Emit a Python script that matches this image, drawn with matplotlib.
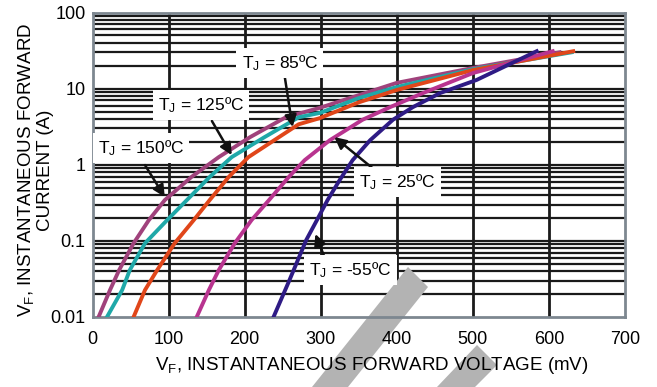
import matplotlib
matplotlib.use('Agg')
from matplotlib import pyplot as plt
from matplotlib.patches import Polygon
from matplotlib.ticker import LogLocator, NullFormatter

plt.rcParams['font.family'] = ['Liberation Sans', 'DejaVu Sans']
plt.rcParams['mathtext.fontset'] = 'custom'
plt.rcParams['mathtext.rm'] = 'Liberation Sans'
plt.rcParams['mathtext.it'] = 'Liberation Sans'

# curve data: forward voltage (mV) vs forward current (A)
v_150 = [8, 23, 35, 54, 74, 95, 130, 166, 207, 254, 299, 350, 400, 499, 614]
i_150 = [0.01, 0.0226, 0.0413, 0.093, 0.187, 0.343, 0.69, 1.26, 2.3, 4.2, 5.6, 8.2, 11.9, 18.6, 30]

v_125 = [19, 39, 49, 69, 98, 124, 154, 183, 226, 271, 299, 350, 400, 500, 630]
i_125 = [0.01, 0.0226, 0.0413, 0.093, 0.187, 0.343, 0.69, 1.26, 2.3, 4.2, 4.8, 7.5, 10.5, 18, 30]

v_85 = [54, 69, 85, 108, 133, 154, 179, 205, 245, 271, 299, 350, 400, 500, 632]
i_85 = [0.01, 0.0226, 0.0413, 0.093, 0.187, 0.343, 0.69, 1.26, 2.3, 3.4, 4.1, 6.6, 9.6, 17.5, 31]

v_25 = [137, 153, 166, 187, 209, 232, 258, 279, 312, 355, 391, 434, 500, 605]
i_25 = [0.01, 0.0226, 0.0413, 0.093, 0.187, 0.343, 0.69, 1.15, 2.1, 3.9, 5.7, 8.7, 16, 31]

v_m55 = [238, 259, 281, 295, 309, 325, 342, 365, 395, 421, 457, 505, 584]
i_m55 = [0.01, 0.0306, 0.1026, 0.187, 0.343, 0.63, 1.15, 2.1, 3.9, 5.7, 8.75, 13.0, 31]

x_ticks = [0, 100, 200, 300, 400, 500, 600, 700]
y_ticks = [0.01, 0.1, 1, 10, 100]
y_labels = ['0.01', '0.1', '1', '10', '100']

fig = plt.figure(figsize=(6.57, 3.87), dpi=100)
ax = fig.add_axes([0.1408, 0.1809, 0.8104, 0.7868])

ax.set_yscale('log')
ax.set_xlim(0, 700)
ax.set_ylim(0.01, 100)

ax.plot(v_150, i_150, color='#a0427c', lw=2.8, zorder=3)
ax.plot(v_125, i_125, color='#1fa8a8', lw=2.8, zorder=3)
ax.plot(v_85, i_85, color='#e0461a', lw=2.8, zorder=3)
ax.plot(v_25, i_25, color='#b8348f', lw=2.8, zorder=3)
ax.plot(v_m55, i_m55, color='#2e1b85', lw=2.8, zorder=3)

ax.set_xticks(x_ticks)
ax.set_xticklabels([str(v) for v in x_ticks])
ax.set_yticks(y_ticks)
ax.set_yticklabels(y_labels)
ax.yaxis.set_minor_locator(LogLocator(base=10, subs=range(2, 10)))
ax.yaxis.set_minor_formatter(NullFormatter())
ax.tick_params(axis='x', which='both', length=0, labelsize=13, pad=10)
ax.tick_params(axis='y', which='both', length=0, labelsize=13, pad=5)

# grid drawn as plain lines so the watermark can sit between grid and labels
for xv in x_ticks[1:-1]:
    ax.axvline(xv, color='#1a1a1a', lw=2.0, zorder=1)
for yv in list(ax.yaxis.get_majorticklocs()) + list(ax.yaxis.get_minorticklocs()):
    if 0.01 < yv < 100:
        ax.axhline(yv, color='#1a1a1a', lw=1.6, zorder=1)

for s in ax.spines.values():
    s.set_color('#7d8790')
    s.set_linewidth(2)

W, H = 657.0, 387.0
fig.text(372 / W, 1 - 366 / H, 'V$_\\mathrm{F}$, INSTANTANEOUS FORWARD VOLTAGE (mV)',
         fontsize=13.5, ha='center', va='center', zorder=10)
fig.text(35 / W, 1 - 170 / H, 'V$_\\mathrm{F}$, INSTANTANEOUS FORWARD\nCURRENT (A)',
         fontsize=13.5, ha='center', va='center', rotation=90,
         multialignment='center', linespacing=1.05, zorder=10)

# watermark stripes (figure pixel coords)
for pts in ([(408, 267), (428, 287), (348, 387), (312, 387)],
            [(437, 387), (477, 345), (497, 365), (475, 387)]):
    poly = Polygon([(x / W, 1 - y / H) for x, y in pts], closed=True,
                   transform=fig.transFigure, facecolor='#b3b3b3',
                   edgecolor='none', clip_on=False, zorder=1.2)
    ax.add_patch(poly)

box = dict(boxstyle='square,pad=0.3', facecolor='white', edgecolor='none')
arrow = dict(arrowstyle='-|>,head_length=0.7,head_width=0.35', color='#111111', lw=1.8,
             shrinkA=0, shrinkB=0)

notes = [
    ('T$_\\mathrm{J}$ = 85ºC', (196, 21.7), (253, 13.8), (263, 3.13)),
    ('T$_\\mathrm{J}$ = 125ºC', (86, 6.1), (157, 3.75), (183, 1.34)),
    ('T$_\\mathrm{J}$ = 150ºC', (7, 1.66), (69, 0.99), (95, 0.377)),
    ('T$_\\mathrm{J}$ = 25ºC', (351, 0.593), (368, 0.905), (318, 2.31)),
    ('T$_\\mathrm{J}$ = -55ºC', (285, 0.0413), (305, 0.0612), (293, 0.123)),
]
for label, txy, tail, head in notes:
    ax.annotate('', xy=head, xytext=tail, arrowprops=arrow, zorder=5)
    ax.text(txy[0], txy[1], label, fontsize=12.5, va='center', ha='left',
            bbox=box, zorder=6)

plt.savefig('out.png', dpi=100)
plt.close()
